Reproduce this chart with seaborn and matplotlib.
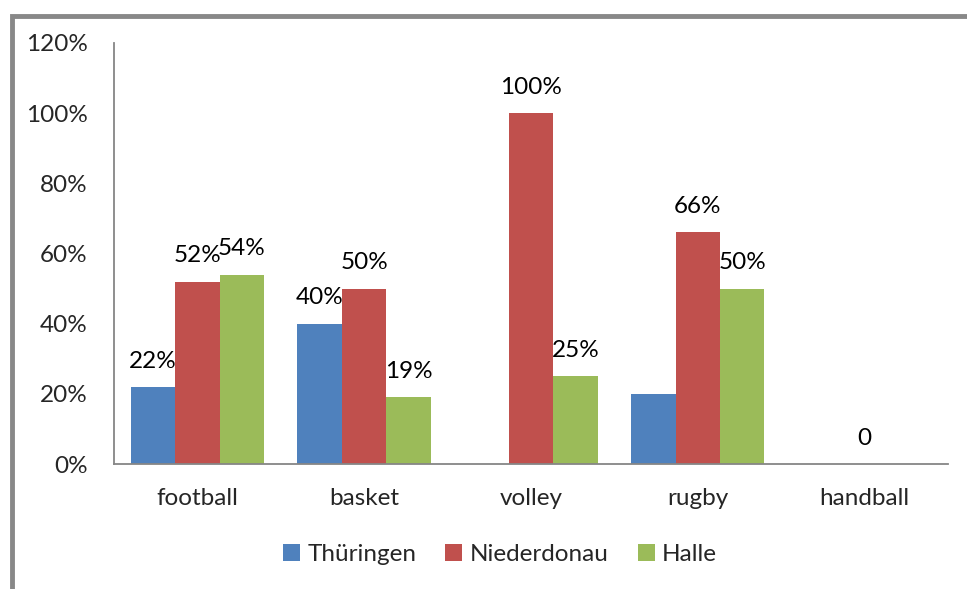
import numpy as np
import pandas as pd
import matplotlib
matplotlib.use("Agg")
import matplotlib.pyplot as plt
from matplotlib.patches import Rectangle
import seaborn as sns

# Data (percent); NaN = no bar
sports = ["football", "basket", "volley", "rugby", "handball"]
series = ["Thüringen", "Niederdonau", "Halle"]
thueringen = [22, 40, np.nan, 20, np.nan]
niederdonau = [52, 50, 100, 66, 0]
halle = [54, 19, 25, 50, np.nan]
colors = ["#4F81BD", "#C0504D", "#9BBB59"]

df = pd.DataFrame({
    "sport": sports * 3,
    "region": [s for s in series for _ in sports],
    "value": thueringen + niederdonau + halle,
})

sns.set_style("white")
plt.rcParams["font.family"] = ["Lato", "DejaVu Sans"]
FS = 17.5

fig = plt.figure(figsize=(9.67, 5.89), dpi=100)
ax = fig.add_axes([0.1179, 0.2122, 0.8624, 0.7148])

sns.barplot(data=df, x="sport", y="value", hue="region", order=sports,
            hue_order=series, palette=colors, width=0.8, saturation=1,
            errorbar=None, ax=ax, linewidth=0)

# data labels
for cont, name in zip(ax.containers, series):
    for bar, sport in zip(cont, sports):
        v = df[(df.region == name) & (df.sport == sport)]["value"].iloc[0]
        if np.isnan(v):
            continue
        txt = "0" if v == 0 else f"{v:.0f}%"
        ax.annotate(txt, (bar.get_x() + bar.get_width() / 2, bar.get_height()),
                    xytext=(0, 11), textcoords="offset points",
                    ha="center", va="bottom", fontsize=FS, color="black")

ax.set_ylim(0, 120)
ax.set_yticks(range(0, 121, 20))
ax.set_yticklabels([f"{t}%" for t in range(0, 121, 20)], fontsize=FS)
ax.tick_params(axis="y", length=0, pad=19)
ax.tick_params(axis="x", length=0, pad=17, labelsize=FS)
ax.set_xlim(-0.5, 4.5)
ax.set_xlabel("")
ax.set_ylabel("")
for side in ["top", "right"]:
    ax.spines[side].set_visible(False)
for side in ["left", "bottom"]:
    ax.spines[side].set_color("#868686")
    ax.spines[side].set_linewidth(1.3)

handles, labels = ax.get_legend_handles_labels()
ax.legend(handles, labels, loc="center", bbox_to_anchor=(0.517, 0.058),
          bbox_transform=fig.transFigure, ncol=3, frameon=False,
          fontsize=FS, handlelength=0.7, handleheight=0.7,
          handletextpad=0.3, columnspacing=1.2)

# outer gray frame (top and left edges visible)
fig.add_artist(Rectangle((11.5 / 967, -0.1), 1.2, 1.1 - 15.5 / 589,
                         transform=fig.transFigure, fill=False,
                         edgecolor="#888888", linewidth=3.5))

fig.savefig("out.png", dpi=100)
